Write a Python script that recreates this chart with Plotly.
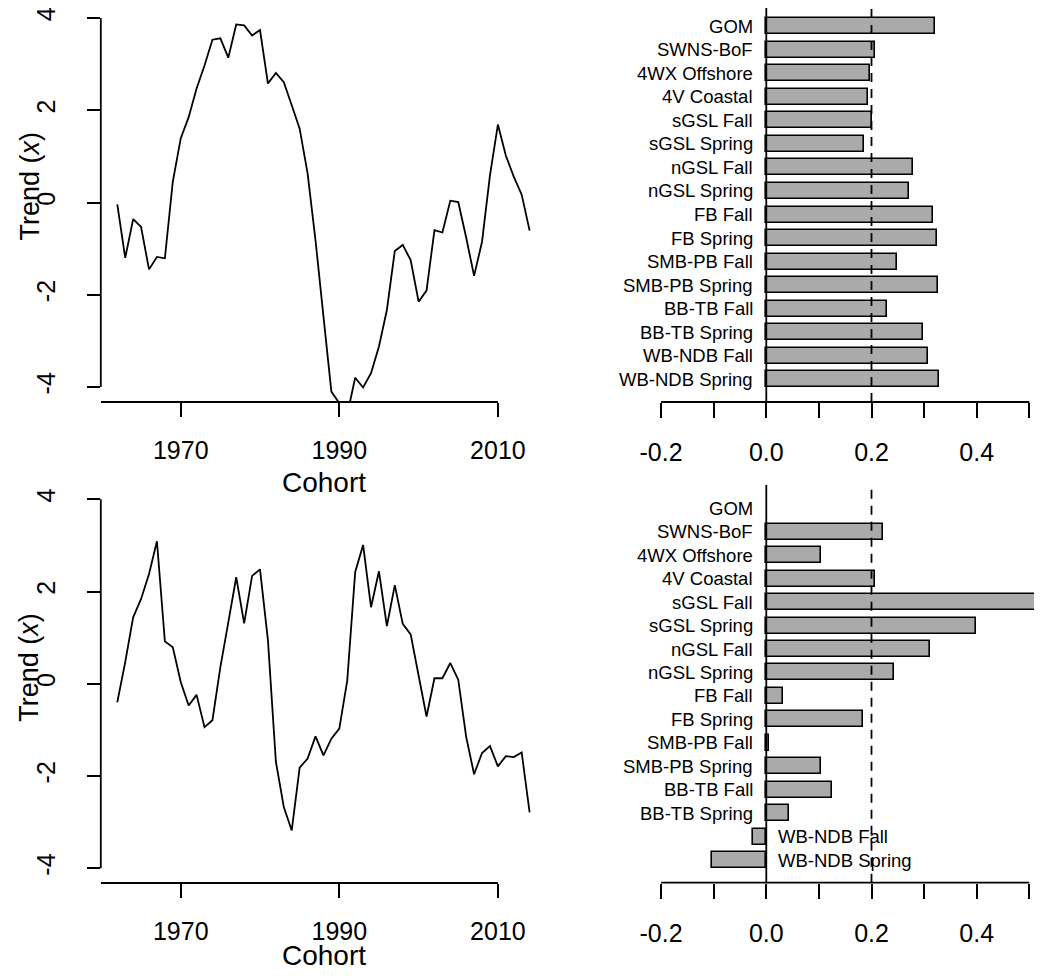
import plotly.graph_objects as go

# ---------------- data ----------------
years = list(range(1962, 2015))

trend_top = [-0.04, -1.20, -0.36, -0.53, -1.45, -1.18, -1.21, 0.45, 1.39, 1.85,
             2.47, 2.97, 3.53, 3.56, 3.14, 3.86, 3.84, 3.62, 3.74, 2.58,
             2.81, 2.61, 2.11, 1.60, 0.63, -0.82, -2.47, -4.10, -4.35, -4.60,
             -3.80, -4.01, -3.70, -3.12, -2.33, -1.05, -0.92, -1.25, -2.15, -1.91,
             -0.60, -0.65, 0.04, 0.01, -0.76, -1.59, -0.85, 0.59, 1.69, 1.02,
             0.56, 0.17, -0.61]

trend_bottom = [-0.40, 0.47, 1.44, 1.84, 2.38, 3.09, 0.92, 0.79, 0.04, -0.47,
                -0.24, -0.94, -0.79, 0.36, 1.33, 2.31, 1.31, 2.34, 2.48, 0.94,
                -1.69, -2.67, -3.18, -1.82, -1.62, -1.14, -1.55, -1.19, -0.97, 0.07,
                2.42, 3.01, 1.66, 2.44, 1.25, 2.14, 1.30, 1.07, 0.18, -0.71,
                0.12, 0.12, 0.45, 0.09, -1.15, -1.96, -1.50, -1.35, -1.79, -1.57,
                -1.59, -1.49, -2.79]

stocks = ["GOM", "SWNS-BoF", "4WX Offshore", "4V Coastal", "sGSL Fall",
          "sGSL Spring", "nGSL Fall", "nGSL Spring", "FB Fall", "FB Spring",
          "SMB-PB Fall", "SMB-PB Spring", "BB-TB Fall", "BB-TB Spring",
          "WB-NDB Fall", "WB-NDB Spring"]

loadings_top = [0.321, 0.206, 0.197, 0.194, 0.201, 0.185, 0.278, 0.271, 0.316,
                0.325, 0.249, 0.327, 0.230, 0.297, 0.307, 0.329]

loadings_bottom = [None, 0.221, 0.104, 0.206, 0.56, 0.398, 0.312, 0.242, 0.031,
                   0.183, 0.005, 0.104, 0.125, 0.044, -0.026, -0.104]

year_ticks = [1970, 1990, 2010]
trend_ticks = [-4, -2, 0, 2, 4]
trend_ticktext = ["-4", "-2", "0", "2", "4"]
load_ticks = [-0.2, -0.1, 0.0, 0.1, 0.2, 0.3, 0.4, 0.5]
load_ticktext = ["-0.2", "", "0.0", "", "0.2", "", "0.4", ""]
cutoff = 0.2

# ---------------- layout geometry ----------------
OFF = 8                      # page body margin
W, H = 1042 - 2 * OFF, 980 - 2 * OFF
FONT = "Liberation Sans, Arial, sans-serif"
LW = 1.8


def xd(px):                  # page px -> paper fraction (x)
    return (px - OFF) / W


def yd(px):                  # page px -> paper fraction (y)
    return min(1.0, 1 - (px - OFF) / H)


left_dom = [xd(100.8), xd(546.1)]
right_dom = [xd(640), 1.0]
top_dom = [yd(402), yd(OFF)]
bot_dom_line = [yd(883), yd(484.5)]
bot_dom_bar = [yd(882.7), yd(485)]

fig = go.Figure()

fig.add_trace(go.Scatter(x=years, y=trend_top, mode="lines",
                         line=dict(color="black", width=LW),
                         xaxis="x", yaxis="y", showlegend=False))
fig.add_trace(go.Scatter(x=years, y=trend_bottom, mode="lines",
                         line=dict(color="black", width=LW),
                         xaxis="x3", yaxis="y3", showlegend=False))

idx = list(range(len(stocks)))
bar_style = dict(color="#aaaaaa", line=dict(color="black", width=1.6))
fig.add_trace(go.Bar(x=loadings_top, y=idx, orientation="h", width=0.68,
                     marker=bar_style, xaxis="x2", yaxis="y2",
                     showlegend=False))
fig.add_trace(go.Bar(x=loadings_bottom, y=idx, orientation="h", width=0.68,
                     marker=bar_style, xaxis="x4", yaxis="y4",
                     showlegend=False))

tickfont = dict(family=FONT, size=25, color="black")
yr_range = [1959.92, 2016.08]
tr_range_top = [-4.325, 4.217]
tr_range_bot = [-4.319, 4.321]
ld_max = (1042 - OFF - 766.3) / 526
ld_range = [-0.2401, ld_max]
ix_range_top = [15.97, -0.778]
ix_range_bot = [15.96, -0.99]

common_x_line = dict(range=yr_range, tickvals=year_ticks, ticks="outside",
                     ticklen=14, tickwidth=LW, tickcolor="black",
                     showline=False, showgrid=False, zeroline=False,
                     tickfont=tickfont, ticklabelstandoff=12,
                     ticklabeloverflow="allow")
common_y_line = dict(tickvals=trend_ticks, ticktext=trend_ticktext,
                     ticks="outside", ticklen=13, tickwidth=LW,
                     tickcolor="black", showline=False, showgrid=False,
                     zeroline=False, tickfont=tickfont, tickangle=-90,
                     ticklabelstandoff=22, ticklabeloverflow="allow")
common_x_bar = dict(range=ld_range, tickvals=load_ticks, ticktext=load_ticktext,
                    ticks="outside", ticklen=15, tickwidth=LW, tickcolor="black",
                    showline=False, showgrid=False, zeroline=False,
                    tickfont=tickfont, ticklabelstandoff=13,
                    ticklabeloverflow="allow")
common_y_bar = dict(showticklabels=False, ticks="",
                    showline=False, showgrid=False, zeroline=False)

fig.update_layout(
    width=W, height=H,
    margin=dict(l=0, r=0, t=0, b=0),
    paper_bgcolor="white", plot_bgcolor="white",
    font=dict(family=FONT, color="black"),
    bargap=0,
    xaxis=dict(domain=left_dom, anchor="y", **common_x_line),
    yaxis=dict(domain=top_dom, anchor="x", range=tr_range_top, **common_y_line),
    xaxis2=dict(domain=right_dom, anchor="y2", **common_x_bar),
    yaxis2=dict(domain=top_dom, anchor="x2", range=ix_range_top, **common_y_bar),
    xaxis3=dict(domain=left_dom, anchor="y3", **common_x_line),
    yaxis3=dict(domain=bot_dom_line, anchor="x3", range=tr_range_bot, **common_y_line),
    xaxis4=dict(domain=right_dom, anchor="y4", **common_x_bar),
    yaxis4=dict(domain=bot_dom_bar, anchor="x4", range=ix_range_bot, **common_y_bar),
)

shapes = []
annotations = []
for xa, ya in (("x", "y"), ("x3", "y3")):
    shapes.append(dict(type="line", xref=f"{xa} domain", yref=ya,
                       x0=0, x1=0, y0=trend_ticks[0], y1=trend_ticks[-1],
                       line=dict(color="black", width=LW)))
    shapes.append(dict(type="line", xref=xa, yref=f"{ya} domain",
                       x0=yr_range[0], x1=year_ticks[-1], y0=0, y1=0,
                       line=dict(color="black", width=LW)))

for xa, ya in (("x2", "y2"), ("x4", "y4")):
    shapes.append(dict(type="line", xref=xa, yref=f"{ya} domain",
                       x0=load_ticks[0], x1=load_ticks[-1], y0=0, y1=0,
                       line=dict(color="black", width=LW)))
    shapes.append(dict(type="line", xref=xa, yref=f"{ya} domain",
                       x0=0, x1=0, y0=0, y1=1,
                       line=dict(color="black", width=LW)))
    shapes.append(dict(type="line", xref=xa, yref=f"{ya} domain",
                       x0=cutoff, x1=cutoff, y0=0, y1=1,
                       line=dict(color="black", width=LW, dash="9px,7px")))

for xa, ya, vals in (("x2", "y2", loadings_top), ("x4", "y4", loadings_bottom)):
    for i, (name, v) in enumerate(zip(stocks, vals)):
        neg = v is not None and v < 0
        annotations.append(dict(
            xref=xa, yref=ya, x=0, y=i, text=name, showarrow=False,
            xanchor="left" if neg else "right",
            xshift=10 if neg else -11, yanchor="middle",
            font=dict(family=FONT, size=18.5, color="black")))

for top_px, bot_px, cohort_dy in ((3, 402, 80), (484.5, 883, 72)):
    annotations.append(dict(
        xref="paper", yref="paper", x=xd(323.5), y=yd(bot_px + cohort_dy),
        text="Cohort", showarrow=False, xanchor="center", yanchor="middle",
        font=dict(family=FONT, size=28, color="black")))
    annotations.append(dict(
        xref="paper", yref="paper", x=xd(29),
        y=yd((top_px + bot_px) / 2 - 16),
        text="Trend (<i>x</i>)", showarrow=False, textangle=-90,
        xanchor="center", yanchor="middle",
        font=dict(family=FONT, size=27, color="black")))

fig.update_layout(shapes=shapes, annotations=annotations)
fig.write_html("out.html")
